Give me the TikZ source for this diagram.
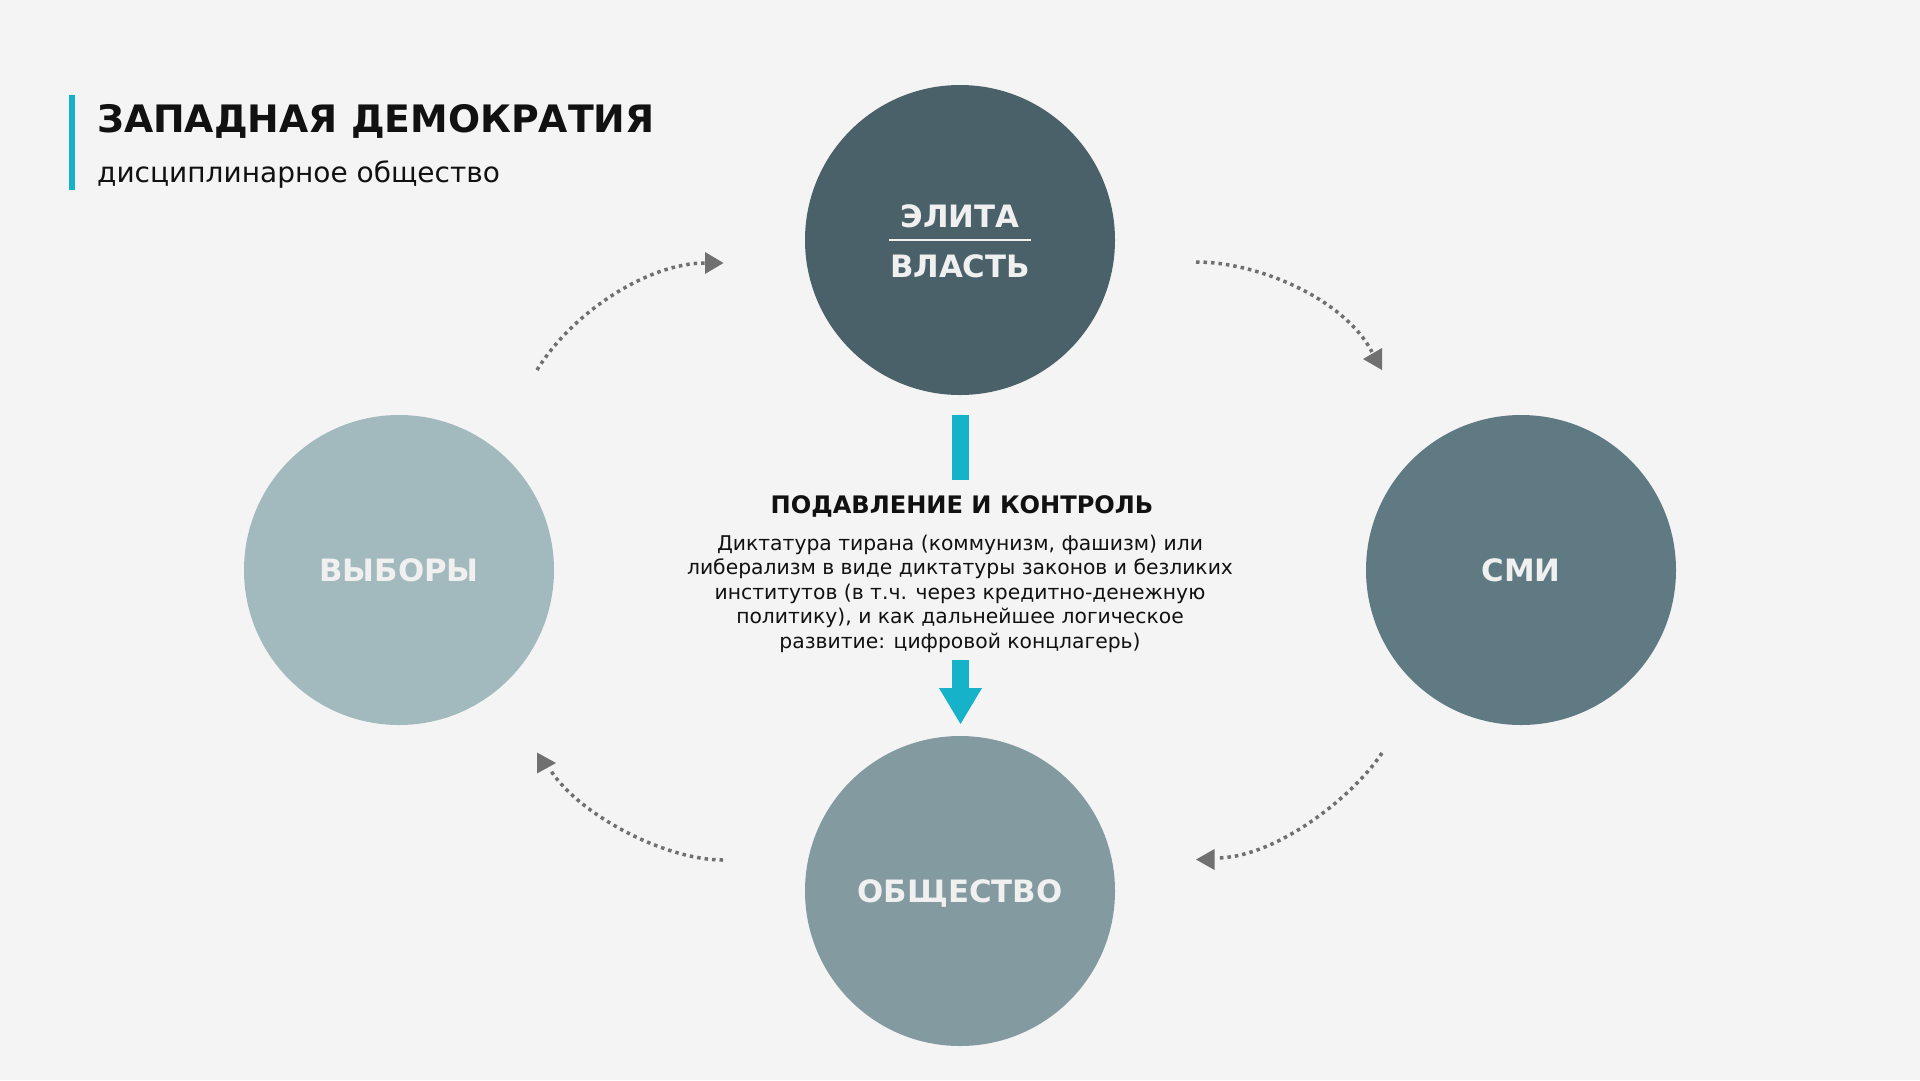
\documentclass[tikz,border=0pt]{standalone}
\usepackage{fontspec}
\setmainfont{DejaVu Sans}
\definecolor{bg}{HTML}{F4F4F4}
\definecolor{cTop}{HTML}{4A6169}
\definecolor{cRight}{HTML}{5F7A83}
\definecolor{cBottom}{HTML}{839AA0}
\definecolor{cLeft}{HTML}{A2B9BE}
\definecolor{teal}{HTML}{15B2C9}
\definecolor{agray}{HTML}{707070}
\definecolor{ink}{HTML}{111111}
\tikzset{
  circ/.style={circle, minimum size=310pt, inner sep=0pt, draw=none},
  clabel/.style={inner sep=0pt, anchor=base, text=white!94!black, font=\bfseries\fontsize{30.8}{36}\selectfont},
  cyc/.style={draw=agray, line width=3.5pt, dash pattern=on 3.5pt off 4pt},
  tip/.style={fill=agray},
  bodyline/.style={inner sep=0pt, anchor=base, text=ink, font=\fontsize{20.3}{24}\selectfont},
}
\begin{document}
\begin{tikzpicture}[x=1pt,y=-1pt]
\fill[bg] (0,0) rectangle (1920,1080);
\useasboundingbox (0,0) rectangle (1920,1080);

% title
\fill[teal] (69,95) rectangle (75,190);
\node[inner sep=0pt, anchor=base west, text=ink, font=\bfseries\fontsize{37.8}{46}\selectfont] (title) at (97,132) {ЗАПАДНАЯ ДЕМОКРАТИЯ};
\node[inner sep=0pt, anchor=base west, text=ink, font=\fontsize{28}{34}\selectfont] (subtitle) at (97,182) {дисциплинарное общество};

% circles
\node[circ, fill=cTop] (elite) at (960,240) {};
\node[circ, fill=cLeft] (vote) at (399,570) {};
\node[circ, fill=cRight] (media) at (1521,570) {};
\node[circ, fill=cBottom] (society) at (960,891) {};

\node[clabel] (eliteT) at (960,227) {ЭЛИТА};
\node[clabel] (powerT) at (960,277) {ВЛАСТЬ};
\draw[white!94!black, line width=2pt] ([xshift=-71pt,yshift=0pt]elite.center) -- ([xshift=71pt]elite.center);
\node[clabel] (voteT) at (399,581) {ВЫБОРЫ};
\node[clabel] (mediaT) at (1521,581) {СМИ};
\node[clabel] (societyT) at (960,902) {ОБЩЕСТВО};

% central block
\fill[teal] (952,415) rectangle (969,480);
\node[inner sep=0pt, anchor=base, text=ink, font=\bfseries\fontsize{24.1}{28}\selectfont] (head) at (962,513) {ПОДАВЛЕНИЕ И КОНТРОЛЬ};
\node[bodyline] (b1) at (960,550) {Диктатура тирана (коммунизм, фашизм) или};
\node[bodyline] (b2) at (960,574.5) {либерализм в виде диктатуры законов и безликих};
\node[bodyline] (b3) at (960,599) {институтов (в т.ч. через кредитно-денежную};
\node[bodyline] (b4) at (960,623.5) {политику), и как дальнейшее логическое};
\node[bodyline] (b5) at (960,648) {развитие: цифровой концлагерь)};
\fill[teal] (952,660) rectangle (969,688.5);
\fill[teal] (939,688) -- (982,688) -- (960.5,724) -- cycle;

% cycle arrows
\coordinate (tlS) at (537,370); \coordinate (tlE) at (705,263);
\coordinate (trS) at (1196,262); \coordinate (trE) at (1372,352);
\coordinate (brS) at (1382,753); \coordinate (brE) at (1216,858);
\coordinate (blS) at (723,860); \coordinate (blE) at (551,771);
\draw[cyc] (tlS) .. controls (574,310) and (650,263) .. (tlE);
\draw[cyc] (trS) .. controls (1260,262) and (1345,300) .. (trE);
\draw[cyc] (brS) .. controls (1352,798) and (1275,858) .. (brE);
\draw[cyc] (blS) .. controls (665,860) and (580,815) .. (blE);
\fill[tip] (705,252) -- (705,274) -- (723.5,263) -- cycle;
\fill[tip] (1363,359) -- (1382,348) -- (1382,370) -- cycle;
\fill[tip] (1196,859.5) -- (1214.5,849) -- (1214.5,870) -- cycle;
\fill[tip] (537,752.5) -- (537,773.5) -- (556,763) -- cycle;
\end{tikzpicture}
\end{document}
